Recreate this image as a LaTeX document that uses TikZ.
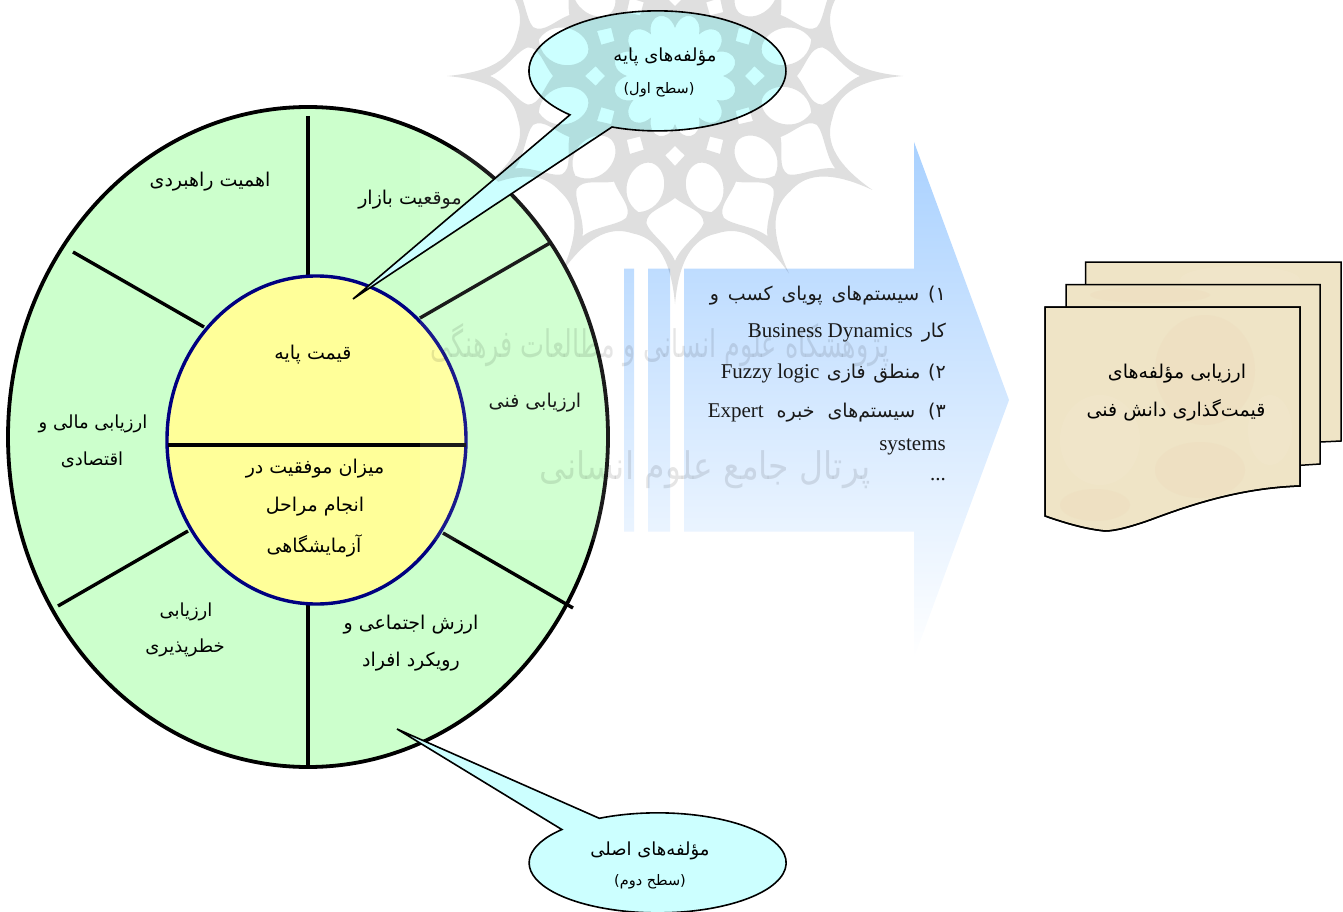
\documentclass[tikz,border=0pt]{standalone}
\usepackage{fontspec}
\setmainfont{Liberation Serif}
\newfontfamily\arabicfont[Script=Arabic]{DejaVu Sans}
\TeXXeTstate=1
\newcommand\fa[1]{\beginR #1\endR}
\newcommand\la[1]{\beginL{\rmfamily\fontsize{21}{24}\selectfont #1}\endL}
\newcommand\wgap{\hskip 5pt plus 1fil\relax}
\definecolor{ringgreen}{HTML}{CCFFCC}
\definecolor{coreyellow}{HTML}{FFFF99}
\definecolor{corenavy}{HTML}{000080}
\definecolor{bubble}{HTML}{CCFFFF}
\definecolor{paper}{HTML}{EFE4C6}
\definecolor{paperpink}{HTML}{EBD5B4}
\definecolor{paperpale}{HTML}{F5EDD6}
\definecolor{arrowtop}{HTML}{A9D1FF}
\tikzset{
  x=1pt,y=-1pt,
  lbl/.style={font=\arabicfont\fontsize{19}{22}\selectfont,text=black,inner sep=0pt,align=center,yshift=-2pt},
  lblb/.style={font=\arabicfont\fontsize{18}{21}\selectfont,text=black,inner sep=0pt,align=center,yshift=-2pt},
  lblsmall/.style={font=\arabicfont\fontsize{14.5}{17}\selectfont,text=black,inner sep=0pt,yshift=-2pt},
  listline/.style={font=\arabicfont\fontsize{19}{22}\selectfont,text=black!90,inner sep=0pt,anchor=east,yshift=-2pt},
  spoke/.style={draw=black,line width=3.4pt},
  paperbox/.style={draw=black,line width=1.5pt,fill=paper},
  balloon/.style={draw=black,line width=1.6pt,fill=bubble},
  blob/.style={opacity=.22},
  wmtext/.style={font=\arabicfont\fontsize{38}{44}\selectfont,text=black,opacity=.10,inner sep=0pt}
}
\begin{document}
\begin{tikzpicture}
\useasboundingbox (0,0) rectangle (1343,912);
\clip (0,0) rectangle (1343,912);
% ring
\draw[draw=black,line width=3.8pt,fill=ringgreen] (308,437) ellipse [x radius=300,y radius=330];
\draw[spoke] (308,116) -- (308,280);
\draw[spoke] (420,318) -- (550,243);
\draw[spoke] (73,252) -- (204,327);
\draw[spoke] (58,606) -- (188,531);
\draw[spoke] (443,533) -- (573,608);
\draw[spoke] (308,600) -- (308,766);
% core
\draw[draw=corenavy,line width=3.4pt,fill=coreyellow] (316.5,440) ellipse [x radius=149.5,y radius=164];
\draw[draw=black,line width=4.5pt] (168,445) -- (466,445);
% ring labels
\node[lbl] (n1) at (210,180) {\fa{اهمیت راهبردی}};
\node[lbl] (n2) at (410,198) {\fa{موقعیت بازار}};
\node[lbl] (n3) at (535,401) {\fa{ارزیابی فنی}};
\node[lblb] (n4a) at (93,422) {\fa{ارزیابی مالی و}};
\node[lblb] (n4b) at (92,458) {\fa{اقتصادی}};
\node[lblb] (n5a) at (186,610) {\fa{ارزیابی}};
\node[lblb] (n5b) at (185,646) {\fa{خطرپذیری}};
\node[lbl] (n6a) at (411,623) {\fa{ارزش اجتماعی و}};
\node[lbl] (n6b) at (411,660) {\fa{رویکرد افراد}};
\node[lbl] (c1) at (313,353) {\fa{قیمت پایه}};
\node[lbl] (c2a) at (315,467) {\fa{میزان موفقیت در}};
\node[lbl] (c2b) at (315,505) {\fa{انجام مراحل}};
\node[lbl] (c2c) at (314,544) {\fa{آزمایشگاهی}};
% veil
\fill[white,opacity=.1] (420,150) rectangle (940,540);
% arrow
\shade[top color=arrowtop,bottom color=white]
  (624,268.5) rectangle (634,531.5)
  (648,268.5) rectangle (670,531.5)
  (684,268.5) -- (914,268.5) -- (914,142) -- (1009,400) -- (914,658) -- (914,531.5) -- (684,531.5) -- cycle;
% list
\node[listline] (l1) at (946,294) {\hbox to 236pt{\beginR ۱)\wgap سیستم‌های\wgap پویای\wgap کسب\wgap و\endR}};
\node[listline] (l2) at (946,331) {\hbox to 198pt{\beginR کار\wgap\la{Business Dynamics}\endR}};
\node[listline] (l3) at (946,372) {\hbox to 225pt{\beginR ۲)\wgap منطق\wgap فازی\wgap\la{Fuzzy logic}\endR}};
\node[listline] (l4) at (946,411) {\hbox to 238pt{\beginR ۳)\wgap سیستم‌های\wgap خبره\wgap\la{Expert}\endR}};
\node[listline] (l5) at (946,445) {\la{systems}};
\node[listline] (l6) at (946,478) {\la{...}};
% documents
\path[paperbox] (1085.5,262) -- (1341,262) -- (1341,441) -- (1300,443) -- (1085.5,443) -- cycle;
\fill[paperpale,blob] (1240,280) ellipse [x radius=60,y radius=14];
\path[paperbox] (1066,284.5) -- (1320,284.5) -- (1320,464) -- (1290,466) -- (1066,466) -- cycle;
\fill[paperpink,blob] (1150,295) ellipse [x radius=60,y radius=8];
\path[paperbox] (1045,307) -- (1300,307) -- (1300,486) .. controls (1240,488) and (1190,505) .. (1150,520) .. controls (1130,527) and (1115,531) .. (1105,531) .. controls (1085,529) and (1065,523) .. (1045,516) -- cycle;
\begin{scope}
\clip (1045,307) -- (1300,307) -- (1300,486) .. controls (1240,488) and (1190,505) .. (1150,520) .. controls (1130,527) and (1115,531) .. (1105,531) .. controls (1085,529) and (1065,523) .. (1045,516) -- cycle;
\fill[paperpink,blob] (1205,370) ellipse [x radius=50,y radius=55];
\fill[paperpink,blob] (1200,470) ellipse [x radius=45,y radius=28];
\fill[paperpale,blob] (1100,440) ellipse [x radius=40,y radius=45];
\fill[paperpink,blob] (1095,505) ellipse [x radius=35,y radius=16];
\fill[paperpale,blob] (1270,430) ellipse [x radius=22,y radius=35];
\end{scope}
\path[draw=black,line width=1.5pt] (1045,307) -- (1300,307) -- (1300,486) .. controls (1240,488) and (1190,505) .. (1150,520) .. controls (1130,527) and (1115,531) .. (1105,531) .. controls (1085,529) and (1065,523) .. (1045,516) -- cycle;
\node[lbl] (d1) at (1177,372) {\fa{ارزیابی مؤلفه‌های}};
\node[lbl] (d2) at (1176,408) {\fa{قیمت‌گذاری دانش فنی}};
% balloons
\coordinate (tipa) at (353,299);
\coordinate (tipb) at (397,729);
\path[balloon] (612,127) arc [start angle=110.7,end angle=-227.1,x radius=128.5,y radius=60] -- (tipa) -- cycle;
\path[balloon] (599.3,818.3) arc [start angle=-117,end angle=221.8,x radius=128.5,y radius=50] -- (tipb) -- cycle;
\node[lblb] (b1a) at (665,55) {\fa{مؤلفه‌های پایه}};
\node[lblsmall] (b1b) at (659,88) {\fa{(سطح اول)}};
\node[lblb] (b2a) at (650,849) {\fa{مؤلفه‌های اصلی}};
\node[lblsmall] (b2b) at (650,880) {\fa{(سطح دوم)}};
% watermark: rosette (kept off the ring)
\begin{scope}[even odd rule]
\clip (0,0) rectangle (1343,912) (308,437) ellipse [x radius=300,y radius=330];
\begin{scope}[shift={(675,76)}]
\fill[black,opacity=.125,even odd rule]
  (0:228) foreach \k in {0,30,...,330} {
     .. controls (\k+1.5:176) and (\k+8:163) .. (\k+15:163)
     .. controls (\k+22:163) and (\k+28.5:176) .. (\k+30:228)
  } -- cycle
  foreach \k in {0,30,...,330} {
    (\k+15:90) .. controls (\k+2:94) and (\k+3:134) .. (\k+15:141) .. controls (\k+27:134) and (\k+28:94) .. cycle
    (\k:122) .. controls (\k-5:132) and (\k-12:138) .. (\k-11:150) .. controls (\k-9:160) and (\k-2:170) .. (\k:185)
             .. controls (\k+2:170) and (\k+9:160) .. (\k+11:150) .. controls (\k+12:138) and (\k+5:132) .. cycle
    (\k:70) -- (\k-7:80) -- (\k:90) -- (\k+7:80) -- cycle
  }
  (0:48) foreach \k in {0,30,...,330} {
     .. controls (\k+6:68) and (\k+24:68) .. (\k+30:48)
  } -- cycle;
\end{scope}
\end{scope}
\node[wmtext,xscale=.67] (w1) at (660,345) {\fa{پژوهشگاه علوم انسانی و مطالعات فرهنگی}};
\node[wmtext,xscale=.87] (w2) at (705,470) {\fa{پرتال جامع علوم انسانی}};
\end{tikzpicture}
\end{document}
